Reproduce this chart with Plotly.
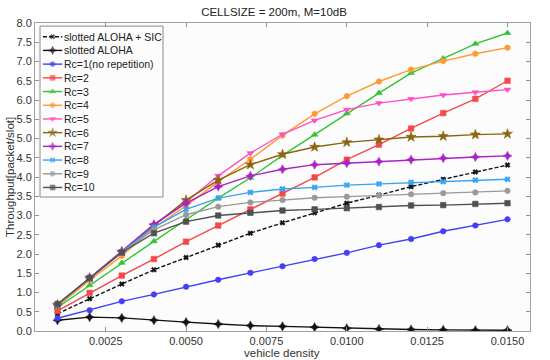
import plotly.graph_objects as go

density = [0.001, 0.002, 0.003, 0.004, 0.005, 0.006, 0.007, 0.008,
           0.009, 0.010, 0.011, 0.012, 0.013, 0.014, 0.015]

aloha_sic = [0.45, 0.84, 1.22, 1.59, 1.91, 2.23, 2.54, 2.81, 3.07, 3.32, 3.53, 3.75, 3.94, 4.13, 4.31]
aloha = [0.28, 0.36, 0.34, 0.28, 0.23, 0.18, 0.14, 0.12, 0.10, 0.07, 0.05, 0.04, 0.03, 0.02, 0.02]
rc1 = [0.33, 0.54, 0.77, 0.95, 1.15, 1.33, 1.51, 1.68, 1.87, 2.03, 2.23, 2.39, 2.59, 2.74, 2.90]
rc2 = [0.52, 0.99, 1.44, 1.87, 2.32, 2.74, 3.16, 3.57, 3.99, 4.45, 4.84, 5.26, 5.66, 6.03, 6.50]
rc3 = [0.61, 1.19, 1.77, 2.33, 2.89, 3.45, 3.98, 4.56, 5.10, 5.65, 6.18, 6.70, 7.08, 7.46, 7.74]
rc4 = [0.64, 1.32, 1.95, 2.68, 3.25, 3.88, 4.46, 5.08, 5.64, 6.10, 6.48, 6.79, 7.01, 7.20, 7.36]
rc5 = [0.68, 1.37, 2.05, 2.75, 3.35, 4.03, 4.62, 5.11, 5.47, 5.75, 5.92, 6.03, 6.13, 6.20, 6.27]
rc6 = [0.68, 1.38, 2.06, 2.74, 3.40, 3.92, 4.32, 4.59, 4.78, 4.90, 4.97, 5.04, 5.06, 5.10, 5.12]
rc7 = [0.68, 1.38, 2.07, 2.77, 3.32, 3.75, 4.03, 4.20, 4.32, 4.36, 4.40, 4.45, 4.49, 4.52, 4.55]
rc8 = [0.68, 1.37, 2.05, 2.70, 3.16, 3.45, 3.60, 3.69, 3.73, 3.79, 3.82, 3.86, 3.88, 3.92, 3.94]
rc9 = [0.69, 1.37, 2.04, 2.63, 3.02, 3.23, 3.34, 3.40, 3.46, 3.49, 3.52, 3.55, 3.58, 3.60, 3.64]
rc10 = [0.70, 1.38, 2.04, 2.54, 2.84, 3.00, 3.07, 3.13, 3.16, 3.19, 3.22, 3.26, 3.27, 3.30, 3.32]

names = ["slotted ALOHA + SIC", "slotted ALOHA", "Rc=1(no repetition)", "Rc=2", "Rc=3",
         "Rc=4", "Rc=5", "Rc=6", "Rc=7", "Rc=8", "Rc=9", "Rc=10"]
series = [aloha_sic, aloha, rc1, rc2, rc3, rc4, rc5, rc6, rc7, rc8, rc9, rc10]

x_ticks = [0.0025, 0.0050, 0.0075, 0.0100, 0.0125, 0.0150]
y_ticks = [i * 0.5 for i in range(17)]

# styles
colors = ["#111111", "#111111", "#4040f5", "#f54848", "#33c433", "#ff9a33",
          "#ff4fc6", "#8b6410", "#a822c4", "#3aa2ee", "#999999", "#505050"]
symbols = ["x", "star-diamond", "circle", "square", "triangle-up", "hexagon",
           "triangle-down", "star", "star-diamond", "x", "circle", "square"]
msizes = [4.5, 6.5, 5.5, 5.5, 6, 6, 6, 7.5, 6.5, 5, 5.5, 5.5]
dashes = ["4px,2px"] + ["solid"] * 11

fig = go.Figure()
for nm, ys, c, s, ms, d in zip(names, series, colors, symbols, msizes, dashes):
    fig.add_trace(go.Scatter(
        x=density, y=ys, mode="lines+markers", name=nm, showlegend=False,
        line=dict(color=c, width=1.4, dash=d),
        marker=dict(symbol=s, size=ms, color=c, line=dict(width=0.6, color=c)),
    ))

# hand-built legend (on an overlay axis in fractional units of the plot area)
row0, row_step = 0.9555, 0.0445
for i, (nm, c, s, ms, d) in enumerate(zip(names, colors, symbols, msizes, dashes)):
    ry = row0 - i * row_step
    fig.add_trace(go.Scatter(
        x=[0.016, 0.0355, 0.055], y=[ry, ry, ry], mode="lines+markers",
        xaxis="x2", yaxis="y2", showlegend=False, hoverinfo="skip",
        line=dict(color=c, width=1.4, dash=d),
        marker=dict(symbol=s, size=[0, ms * 0.9, 0], color=c, line=dict(width=0.6, color=c)),
    ))
    fig.add_annotation(x=0.054, y=ry, xref="x2", yref="y2", text=nm, showarrow=False,
                       xanchor="left", yanchor="middle",
                       font=dict(size=10.5, color="#222222", family="Liberation Sans, Arial"))

fig.add_shape(type="rect", xref="x2", yref="y2", x0=0.0101, x1=0.2586, y0=0.435, y1=0.990,
              line=dict(color="#8a8a8a", width=1), fillcolor="rgba(0,0,0,0)", layer="above")

fig.update_layout(
    width=550, height=360, autosize=False,
    margin=dict(l=35, r=20, t=23, b=29),
    paper_bgcolor="white", plot_bgcolor="#fcfcfc",
    font=dict(family="Liberation Sans, Arial", color="#333333", size=11),
    title=dict(text="CELLSIZE = 200m, M=10dB", x=274 / 550, xanchor="center", xref="container",
               y=1 - 11.7 / 360, yanchor="middle", yref="container",
               font=dict(size=11.5, color="#222222")),
    xaxis=dict(range=[0.0003, 0.0157], tickvals=x_ticks, tickformat=".4f",
               ticks="inside", ticklen=4, tickcolor="#909090", showline=True,
               linecolor="#a0a0a0", linewidth=1, mirror="allticks", showgrid=False,
               zeroline=False, tickfont=dict(size=11, color="#333333")),
    yaxis=dict(range=[0, 8], tickvals=y_ticks, tickformat=".1f",
               ticks="inside", ticklen=4, tickcolor="#909090", showline=True,
               linecolor="#a0a0a0", linewidth=1, mirror="allticks", showgrid=False,
               zeroline=False, tickfont=dict(size=11, color="#333333")),
    xaxis2=dict(overlaying="x", anchor="y2", range=[0, 1], visible=False, fixedrange=True),
    yaxis2=dict(overlaying="y", anchor="x2", range=[0, 1], visible=False, fixedrange=True),
    showlegend=False,
)

# axis titles ("paper" = plot area: x 35..530 px, y 23..331 px)
fig.add_annotation(x=(282 - 35) / 495, y=(331 - 353) / 308, xref="paper", yref="paper",
                   text="vehicle density", showarrow=False, xanchor="center", yanchor="middle",
                   font=dict(size=11.5, color="#333333"))
fig.add_annotation(x=(10 - 35) / 495, y=(331 - 177) / 308, xref="paper", yref="paper",
                   text="Throughput[packet/slot]", showarrow=False, textangle=-90,
                   xanchor="center", yanchor="middle", font=dict(size=11.5, color="#333333"))

fig.write_html("out.html")
